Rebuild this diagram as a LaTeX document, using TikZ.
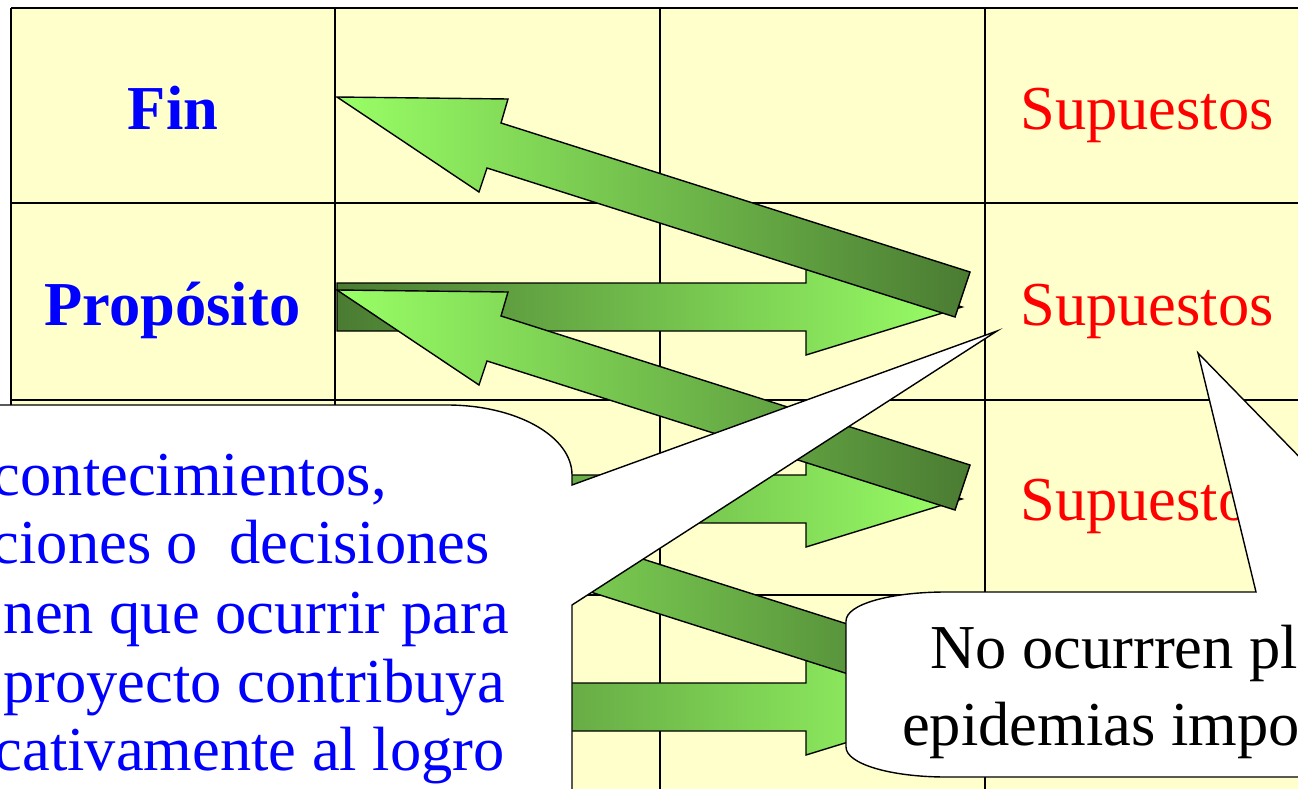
\documentclass[tikz,border=0pt]{standalone}
\usepackage{fontspec}
\setmainfont{Liberation Serif}
\definecolor{cellfill}{HTML}{FFFFCC}
\definecolor{lightgreen}{HTML}{99FF66}
\definecolor{darkgreen}{HTML}{4A7B32}
\tikzset{
  gridline/.style={line width=2pt, draw=black},
  diagarrow/.style={draw=black, line width=1.4pt, left color=lightgreen, right color=darkgreen},
  horizarrow/.style={draw=black, line width=1.4pt, left color=darkgreen, right color=lightgreen},
  callout/.style={draw=black, fill=white, line width=1.4pt},
  bigtext/.style={inner sep=0pt, font=\fontsize{62.5}{70}\selectfont},
  rowlabel/.style={inner sep=0pt, text=blue, anchor=base, font=\fontsize{62.5}{70}\selectfont\bfseries},
  supuesto/.style={bigtext, text=red, anchor=base},
  bluetext/.style={bigtext, text=blue, anchor=base east},
  blacktext/.style={bigtext, text=black, anchor=base west},
}
\begin{document}
\begin{tikzpicture}[x=1pt,y=-1pt]
\useasboundingbox (0,0) rectangle (1298,789);
\clip (0,0) rectangle (1298,789);
% table
\fill[cellfill] (11,8) rectangle (1320,800);
\draw[gridline] (11,8) -- (1320,8);
\draw[gridline] (11,203) -- (1320,203);
\draw[gridline] (11,400) -- (1320,400);
\draw[gridline] (11,595) -- (1320,595);
\draw[gridline] (11,8) -- (11,800);
\draw[gridline] (335,8) -- (335,800);
\draw[gridline] (660,8) -- (660,800);
\draw[gridline] (985,8) -- (985,800);
% labels
\node[rowlabel] (fin) at (173,130) {Fin};
\node[rowlabel] (proposito) at (172.5,325) {Propósito};
\node[supuesto] (sup1) at (1147,130) {Supuestos};
\node[supuesto] (sup2) at (1147,325) {Supuestos};
\node[supuesto] (sup3) at (1147,520) {Supuestos};
% horizontal arrows
\draw[horizarrow] (337,283) -- (806,283) -- (806,259) -- (962,307) -- (806,355) -- (806,331) -- (337,331) -- cycle;
\draw[horizarrow] (337,475) -- (806,475) -- (806,451) -- (962,499) -- (806,547) -- (806,523) -- (337,523) -- cycle;
\draw[horizarrow] (337,683) -- (806,683) -- (806,659) -- (962,707) -- (806,755) -- (806,731) -- (337,731) -- cycle;
% diagonal arrows
\foreach \dy in {0,193,391}{
  \draw[diagarrow] (337,97+\dy) -- (508,99+\dy) -- (501,123+\dy) -- (970,272+\dy) -- (955,317+\dy) -- (487,168+\dy) -- (479,192+\dy) -- cycle;
}
% big callout
\draw[callout] (-10,405) -- (447,405) .. controls (516,405) and (572,436) .. (572,475) -- (572,485) -- (997,331) -- (572,605) -- (572,810) -- (-10,810) -- cycle;
\node[bluetext] (l1) at (387,495) {contecimientos,};
\node[bluetext] (l2) at (490,563) {ciones o\ \ decisiones};
\node[bluetext] (l3) at (509,633) {nen que ocurrir para};
\node[bluetext] (l4) at (505,702) {proyecto contribuya};
\node[bluetext] (l5) at (505,770) {cativamente al logro};
% small callout
\draw[callout] (946,592) -- (1256,592) -- (1198,353) -- (1431,592) -- (1500,592) -- (1500,777) -- (946,777) .. controls (891,777) and (846,764) .. (846,747) -- (846,621) .. controls (846,604) and (891,592) .. (946,592) -- cycle;
\node[blacktext] (n1) at (930,668) {No ocurrren pl};
\node[blacktext] (n2) at (902,745) {epidemias impo};
\end{tikzpicture}
\end{document}
